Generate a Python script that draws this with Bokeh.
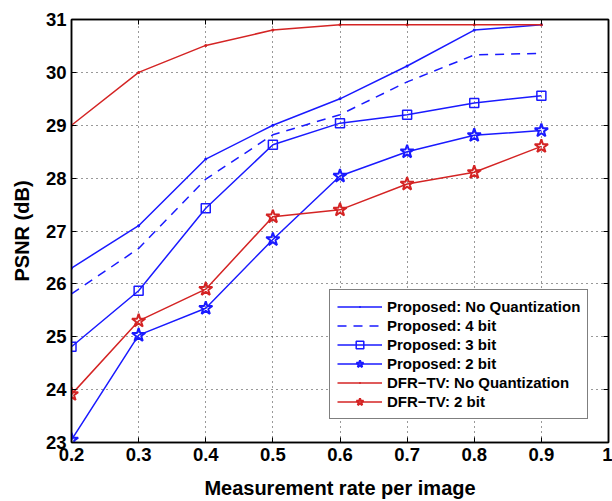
from bokeh.plotting import figure
from bokeh.models import Legend, LegendItem, LinearAxis, FixedTicker, Range1d
from bokeh.embed import file_html
from bokeh.resources import INLINE

# Measurement rates and PSNR results (dB)
rates = [0.2, 0.3, 0.4, 0.5, 0.6, 0.7, 0.8, 0.9]
prop_noq = [26.3, 27.1, 28.36, 29.0, 29.5, 30.12, 30.8, 30.9]
prop_4bit = [25.81, 26.67, 27.98, 28.82, 29.2, 29.82, 30.33, 30.36]
prop_3bit = [24.81, 25.87, 27.43, 28.63, 29.04, 29.2, 29.42, 29.56]
prop_2bit = [23.05, 25.03, 25.54, 26.84, 28.04, 28.5, 28.81, 28.9]
dfr_noq = [29.0, 30.0, 30.51, 30.8, 30.9, 30.9, 30.9, 30.9]
dfr_2bit = [23.91, 25.3, 25.9, 27.27, 27.4, 27.89, 28.11, 28.6]

x_ticks = [0.2, 0.3, 0.4, 0.5, 0.6, 0.7, 0.8, 0.9, 1.0]
y_ticks = [23, 24, 25, 26, 27, 28, 29, 30, 31]

BLUE = "#1a1aff"
RED = "#d42424"
FONT = "Liberation Sans"

p = figure(width=612, height=501, output_backend="svg", toolbar_location=None,
           x_range=Range1d(0.2, 1.0), y_range=Range1d(23, 31),
           min_border_left=71, min_border_right=4, min_border_top=19,
           min_border_bottom=59)
p.background_fill_color = "white"
p.border_fill_color = "white"
p.outline_line_color = "black"
p.outline_line_width = 1.5

# dotted grid
for g in (p.xgrid, p.ygrid):
    g.grid_line_color = "#333333"
    g.grid_line_dash = "1 4"
    g.grid_line_width = 1
p.xgrid.ticker = FixedTicker(ticks=x_ticks)
p.ygrid.ticker = FixedTicker(ticks=y_ticks)

# axes
p.xaxis.ticker = FixedTicker(ticks=x_ticks)
p.yaxis.ticker = FixedTicker(ticks=y_ticks)
p.xaxis.major_label_overrides = {1.0: "1"}
p.xaxis.axis_label = "Measurement rate per image"
p.yaxis.axis_label = "PSNR (dB)"
for ax in (p.xaxis[0], p.yaxis[0]):
    ax.axis_line_color = "black"
    ax.axis_line_width = 1.5
    ax.major_tick_in = 5
    ax.major_tick_out = 0
    ax.minor_tick_line_color = None
    ax.major_label_text_font = FONT
    ax.major_label_text_font_style = "bold"
    ax.major_label_text_font_size = "18.5px"
    ax.major_label_text_color = "black"
    ax.axis_label_text_font = FONT
    ax.axis_label_text_font_style = "bold"
    ax.axis_label_text_font_size = "20px"
    ax.axis_label_text_color = "black"
p.xaxis.major_label_standoff = 5
p.yaxis.major_label_standoff = 5
p.xaxis.axis_label_standoff = 13
p.yaxis.axis_label_standoff = 10

# box ticks on top and right (no labels)
for side, tks in (("right", y_ticks), ("above", x_ticks)):
    ax = LinearAxis(ticker=FixedTicker(ticks=tks))
    ax.major_label_text_font_size = "1px"
    ax.major_label_text_color = None
    ax.major_label_standoff = 0
    ax.major_tick_in = 5
    ax.major_tick_out = 0
    ax.minor_tick_line_color = None
    ax.axis_line_color = "black"
    ax.axis_line_width = 1.5
    p.add_layout(ax, side)

LW = 1.5
items = []

r = p.line(rates, prop_noq, line_color=BLUE, line_width=LW)
m = p.scatter(rates, prop_noq, marker="dot", size=12, line_color=BLUE, line_width=1)
items.append(LegendItem(label="Proposed: No Quantization", renderers=[r, m]))

r = p.line(rates, prop_4bit, line_color=BLUE, line_width=LW, line_dash="9 7")
items.append(LegendItem(label="Proposed: 4 bit", renderers=[r]))

r = p.line(rates, prop_3bit, line_color=BLUE, line_width=LW)
m = p.scatter(rates, prop_3bit, marker="square", size=9, fill_color=None,
              line_color=BLUE, line_width=1.5)
items.append(LegendItem(label="Proposed: 3 bit", renderers=[r, m]))

r = p.line(rates, prop_2bit, line_color=BLUE, line_width=LW)
m = p.scatter(rates, prop_2bit, marker="star", size=14, fill_color=None,
              line_color=BLUE, line_width=2)
items.append(LegendItem(label="Proposed: 2 bit", renderers=[r, m]))

r = p.line(rates, dfr_noq, line_color=RED, line_width=LW)
m = p.scatter(rates, dfr_noq, marker="dot", size=12, line_color=RED, line_width=1)
items.append(LegendItem(label="DFR\u2212TV: No Quantization", renderers=[r, m]))

r = p.line(rates, dfr_2bit, line_color=RED, line_width=LW)
m = p.scatter(rates, dfr_2bit, marker="star", size=14, fill_color=None,
              line_color=RED, line_width=2)
items.append(LegendItem(label="DFR\u2212TV: 2 bit", renderers=[r, m]))

legend = Legend(items=items, location=(258, 23))
legend.label_text_font = FONT
legend.label_text_font_style = "bold"
legend.label_text_font_size = "15px"
legend.label_text_color = "black"
legend.glyph_width = 45
legend.glyph_height = 19
legend.label_height = 19
legend.spacing = 0
legend.padding = 7
legend.margin = 0
legend.label_standoff = 5
legend.border_line_color = "black"
legend.border_line_width = 1
legend.background_fill_color = "white"
legend.background_fill_alpha = 1.0
p.add_layout(legend, "center")

open("out.html", "w").write(file_html(p, INLINE))
